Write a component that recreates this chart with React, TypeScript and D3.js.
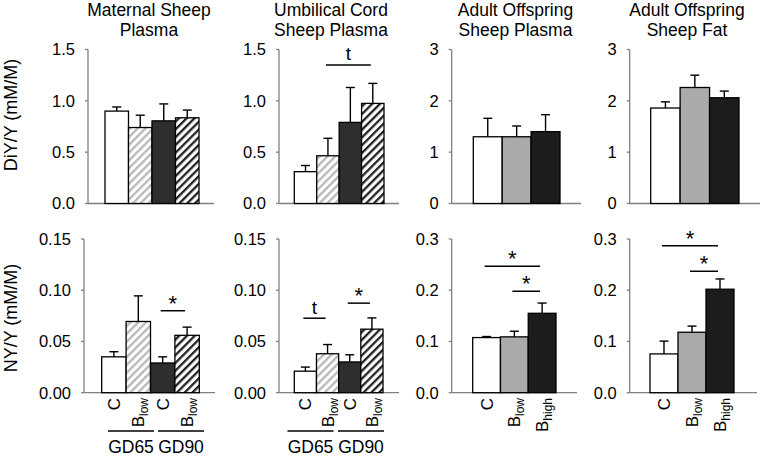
import React from "react";
import * as d3 from "d3";

// ---------- DATA ----------
const titles = [
  ["Maternal Sheep", "Plasma"],
  ["Umbilical Cord", "Sheep Plasma"],
  ["Adult Offspring", "Sheep Plasma"],
  ["Adult Offspring", "Sheep Fat"],
];
const fetalCategories = ["C", "Blow", "C", "Blow"];
const adultCategories = ["C", "Blow", "Bhigh"];
const fetalGroups = ["GD65", "GD90"];

const maternalDiY = [0.9, 0.74, 0.805, 0.835];
const maternalDiYErr = [0.04, 0.12, 0.165, 0.075];
const cordDiY = [0.31, 0.465, 0.79, 0.975];
const cordDiYErr = [0.06, 0.17, 0.34, 0.195];
const adultPlasmaDiY = [1.3, 1.3, 1.4];
const adultPlasmaDiYErr = [0.36, 0.21, 0.33];
const adultFatDiY = [1.86, 2.26, 2.06];
const adultFatDiYErr = [0.12, 0.24, 0.13];

const maternalNY = [0.035, 0.0695, 0.029, 0.056];
const maternalNYErr = [0.005, 0.025, 0.006, 0.008];
const cordNY = [0.021, 0.038, 0.03, 0.062];
const cordNYErr = [0.004, 0.009, 0.007, 0.011];
const adultPlasmaNY = [0.1076, 0.109, 0.155];
const adultPlasmaNYErr = [0.002, 0.011, 0.02];
const adultFatNY = [0.0757, 0.118, 0.202];
const adultFatNYErr = [0.025, 0.012, 0.02];

const ticksDiYFetal = [0, 0.5, 1.0, 1.5];
const ticksDiYAdult = [0, 1, 2, 3];
const ticksNYFetal = [0, 0.05, 0.1, 0.15];
const ticksNYAdult = [0, 0.1, 0.2, 0.3];

const sigCordDiY = [{ from: 1, to: 3, y: 1.35, label: "t" }];
const sigMaternalNY = [{ from: 2, to: 3, y: 0.08, label: "*" }];
const sigCordNY = [
  { from: 0, to: 1, y: 0.0727, label: "t" },
  { from: 2, to: 3, y: 0.0874, label: "*" },
];
const sigAdultPlasmaNY = [
  { from: 0, to: 2, y: 0.247, label: "*" },
  { from: 1, to: 2, y: 0.198, label: "*" },
];
const sigAdultFatNY = [
  { from: 0, to: 2, y: 0.287, label: "*" },
  { from: 1, to: 2, y: 0.237, label: "*" },
];

// ---------- STYLE / LAYOUT ----------
const FONT = "'Liberation Sans', Arial, sans-serif";
const fetalFills = ["#ffffff", "url(#hatchGray)", "#2e2e2e", "url(#hatchBlack)"];
const adultFills = ["#ffffff", "#aaaaaa", "#1c1c1c"];

type Sig = { from: number; to: number; y: number; label: string };
type Panel = {
  values: number[];
  errs: number[];
  ticks: number[];
  fmt: string;
  cats: string[];
  fills: string[];
  sigs: Sig[];
  ax: number;
  bx0: number;
  bx1: number;
  end: number;
  y0: number;
  y1: number;
  bottom: boolean;
  groupCenters: number[];
};

const topY0 = 203.5;
const topY1 = 49.5;
const botY0 = 392.7;
const botY1 = 239;

const panels: Panel[] = [
  { values: maternalDiY, errs: maternalDiYErr, ticks: ticksDiYFetal, fmt: ".1f", cats: fetalCategories, fills: fetalFills, sigs: [], ax: 88, bx0: 105, bx1: 199, end: 214, y0: topY0, y1: topY1, bottom: false, groupCenters: [] },
  { values: cordDiY, errs: cordDiYErr, ticks: ticksDiYFetal, fmt: ".1f", cats: fetalCategories, fills: fetalFills, sigs: sigCordDiY, ax: 279, bx0: 294.3, bx1: 384, end: 399, y0: topY0, y1: topY1, bottom: false, groupCenters: [] },
  { values: adultPlasmaDiY, errs: adultPlasmaDiYErr, ticks: ticksDiYAdult, fmt: "d", cats: adultCategories, fills: adultFills, sigs: [], ax: 451.7, bx0: 473.3, bx1: 560, end: 581, y0: topY0, y1: topY1, bottom: false, groupCenters: [] },
  { values: adultFatDiY, errs: adultFatDiYErr, ticks: ticksDiYAdult, fmt: "d", cats: adultCategories, fills: adultFills, sigs: [], ax: 629.7, bx0: 650.7, bx1: 739, end: 760, y0: topY0, y1: topY1, bottom: false, groupCenters: [] },
  { values: maternalNY, errs: maternalNYErr, ticks: ticksNYFetal, fmt: ".2f", cats: fetalCategories, fills: fetalFills, sigs: sigMaternalNY, ax: 84, bx0: 101.7, bx1: 199.3, end: 215, y0: botY0, y1: botY1, bottom: true, groupCenters: [131, 181] },
  { values: cordNY, errs: cordNYErr, ticks: ticksNYFetal, fmt: ".2f", cats: fetalCategories, fills: fetalFills, sigs: sigCordNY, ax: 279, bx0: 294.3, bx1: 383, end: 399, y0: botY0, y1: botY1, bottom: true, groupCenters: [310.5, 361] },
  { values: adultPlasmaNY, errs: adultPlasmaNYErr, ticks: ticksNYAdult, fmt: ".1f", cats: adultCategories, fills: adultFills, sigs: sigAdultPlasmaNY, ax: 451.7, bx0: 472.7, bx1: 556, end: 577, y0: botY0, y1: botY1, bottom: true, groupCenters: [] },
  { values: adultFatNY, errs: adultFatNYErr, ticks: ticksNYAdult, fmt: ".1f", cats: adultCategories, fills: adultFills, sigs: sigAdultFatNY, ax: 629.7, bx0: 650, bx1: 734, end: 757, y0: botY0, y1: botY1, bottom: true, groupCenters: [] },
];

const titleCenters = [149, 331, 515.5, 687];

function CatLabel({ x, y, cat }: { x: number; y: number; cat: string }) {
  const main = cat.charAt(0);
  const sub = cat.slice(1);
  return (
    <text
      transform={`translate(${x + 6},${y}) rotate(-90)`}
      textAnchor="end"
      fontFamily={FONT}
      fontSize={17}
      fill="#000"
    >
      <tspan>{main}</tspan>
      {sub && (
        <tspan dy="4" fontSize={12}>
          {sub}
        </tspan>
      )}
    </text>
  );
}

function PanelView({ p }: { p: Panel }) {
  const maxT = p.ticks[p.ticks.length - 1];
  const y = d3.scaleLinear().domain([0, maxT]).range([p.y0, p.y1]);
  const x = d3
    .scaleBand<number>()
    .domain(p.values.map((_, i) => i))
    .range([p.bx0, p.bx1])
    .paddingInner(0);
  const bw = x.bandwidth();
  const fmt = d3.format(p.fmt);
  const cx = (i: number) => (x(i) as number) + bw / 2;
  return (
    <g>
      {/* axes */}
      <line x1={p.ax} x2={p.ax} y1={y(maxT)} y2={y(0)} stroke="#808080" strokeWidth={1.3} />
      <line x1={p.ax} x2={p.end} y1={y(0)} y2={y(0)} stroke="#808080" strokeWidth={1.3} />
      {p.ticks.map((t) => (
        <g key={t}>
          <line x1={p.ax - 3} x2={p.ax} y1={y(t)} y2={y(t)} stroke="#808080" strokeWidth={1.3} />
          <text
            x={p.ax - 13}
            y={y(t)}
            dy="0.36em"
            textAnchor="end"
            fontFamily={FONT}
            fontSize={16.5}
            fill="#000"
          >
            {fmt(t)}
          </text>
        </g>
      ))}
      {/* bars */}
      {p.values.map((v, i) => (
        <rect
          key={i}
          x={x(i)}
          y={y(v)}
          width={bw}
          height={y(0) - y(v)}
          fill={p.fills[i]}
          stroke="#000"
          strokeWidth={1.3}
        />
      ))}
      {/* error bars */}
      {p.values.map((v, i) => (
        <g key={"e" + i} stroke="#000" strokeWidth={1.4}>
          <line x1={cx(i)} x2={cx(i)} y1={y(v)} y2={y(v + p.errs[i])} />
          <line x1={cx(i) - 4.5} x2={cx(i) + 4.5} y1={y(v + p.errs[i])} y2={y(v + p.errs[i])} />
        </g>
      ))}
      {/* significance */}
      {p.sigs.map((s, k) => {
        const xa = cx(s.from) - 2;
        const xb = cx(s.to) - 2;
        const yy = y(s.y);
        return (
          <g key={"s" + k}>
            <line x1={xa} x2={xb} y1={yy} y2={yy} stroke="#000" strokeWidth={1.5} />
            <text
              x={(xa + xb) / 2}
              y={s.label === "*" ? yy : yy - 4.5}
              textAnchor="middle"
              fontFamily={FONT}
              fontSize={s.label === "*" ? 22 : 19}
              fill="#000"
            >
              {s.label}
            </text>
          </g>
        );
      })}
      {/* category labels */}
      {p.bottom &&
        p.cats.map((c, i) => <CatLabel key={"c" + i} x={cx(i)} y={398} cat={c} />)}
      {p.groupCenters.map((gc, k) => (
        <g key={"g" + k}>
          <line x1={gc - 23} x2={gc + 23} y1={431} y2={431} stroke="#000" strokeWidth={1.5} />
          <text x={gc} y={453} textAnchor="middle" fontFamily={FONT} fontSize={17.5} fill="#000">
            {fetalGroups[k]}
          </text>
        </g>
      ))}
    </g>
  );
}

export default function App() {
  return (
    <svg width={762} height={456} style={{ display: "block", position: "absolute", left: 0, top: 0 }}>
      <defs>
        <pattern id="hatchGray" patternUnits="userSpaceOnUse" width={5.5} height={5.5} patternTransform="rotate(45)">
          <rect width={5.5} height={5.5} fill="#fff" />
          <rect width={2.3} height={5.5} fill="#b8b8b8" />
        </pattern>
        <pattern id="hatchBlack" patternUnits="userSpaceOnUse" width={5.5} height={5.5} patternTransform="rotate(45)">
          <rect width={5.5} height={5.5} fill="#fff" />
          <rect width={2.3} height={5.5} fill="#222" />
        </pattern>
      </defs>
      <rect width={762} height={456} fill="#fff" />
      {titles.map((t, i) => (
        <g key={i}>
          <text x={titleCenters[i]} y={16} textAnchor="middle" fontFamily={FONT} fontSize={17.5} fill="#000">
            {t[0]}
          </text>
          <text x={titleCenters[i]} y={35.5} textAnchor="middle" fontFamily={FONT} fontSize={17.5} fill="#000">
            {t[1]}
          </text>
        </g>
      ))}
      <text
        transform="translate(17,115) rotate(-90)"
        textAnchor="middle"
        fontFamily={FONT}
        fontSize={18}
        fill="#000"
      >
        DiY/Y (mM/M)
      </text>
      <text
        transform="translate(17,318) rotate(-90)"
        textAnchor="middle"
        fontFamily={FONT}
        fontSize={18}
        fill="#000"
      >
        NY/Y (mM/M)
      </text>
      {panels.map((p, i) => (
        <PanelView key={i} p={p} />
      ))}
    </svg>
  );
}
